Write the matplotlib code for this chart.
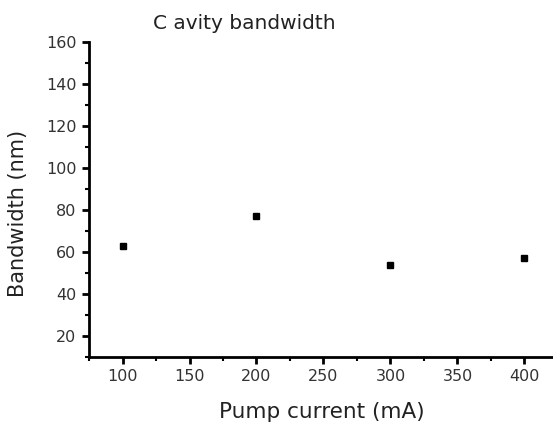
import matplotlib.pyplot as plt
from matplotlib.ticker import MultipleLocator

# data
current = [100, 200, 300, 400]      # mA
bandwidth = [63, 77, 54, 57]        # nm

xticks = [100, 150, 200, 250, 300, 350, 400]
yticks = [20, 40, 60, 80, 100, 120, 140, 160]

fig = plt.figure(figsize=(5.53, 4.26), dpi=100)
ax = fig.add_axes([0.161, 0.162, 0.86, 0.740])

ax.plot(current, bandwidth, 's', color='black', markersize=5)

ax.set_xlim(75, 430)
ax.set_ylim(10, 160)
ax.set_xticks(xticks)
ax.set_yticks(yticks)
ax.xaxis.set_minor_locator(MultipleLocator(25))
ax.yaxis.set_minor_locator(MultipleLocator(10))

ax.spines['top'].set_visible(False)
ax.spines['right'].set_visible(False)
ax.spines['left'].set_linewidth(2)
ax.spines['bottom'].set_linewidth(2)
ax.tick_params(which='major', direction='out', length=5, width=2,
               labelsize=11.5, colors='black', pad=4)
ax.tick_params(which='minor', direction='out', length=3, width=1.5)
for lab in ax.get_xticklabels() + ax.get_yticklabels():
    lab.set_color('#333333')

fig.text(0.442, 0.945, 'C avity bandwidth', ha='center', va='center',
         fontsize=14.5, color='#222222')
fig.text(0.033, 0.5, 'Bandwidth (nm)', rotation=90, ha='center',
         va='center', fontsize=15, color='#222222')
fig.text(0.582, 0.033, 'Pump current (mA)', ha='center', va='center',
         fontsize=15.5, color='#222222')

plt.savefig('out.png', dpi=100)
